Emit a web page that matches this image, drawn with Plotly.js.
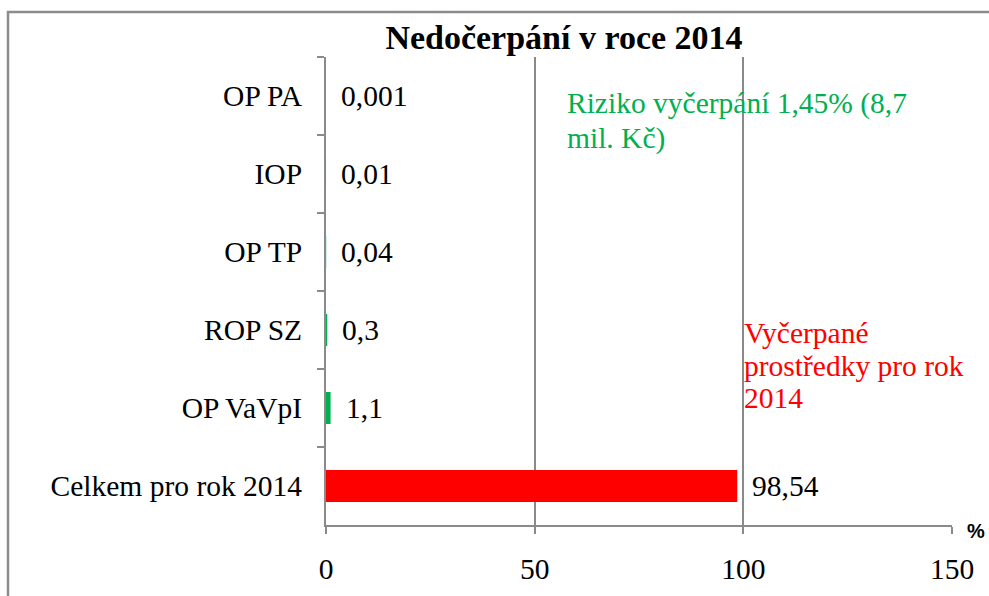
<!DOCTYPE html>
<html>
<head>
<meta charset="utf-8">
<script src="https://cdn.plot.ly/plotly-3.0.1.min.js"></script>
<style>html,body{margin:0;padding:0;background:#fff;}#chart{width:989px;height:596px;}</style>
</head>
<body>
<div id="chart"></div>
<script>
const categories = ["OP PA", "IOP", "OP TP", "ROP SZ", "OP VaVpI", "Celkem pro rok 2014"];
const values = [0.001, 0.01, 0.04, 0.3, 1.1, 98.54];
const barColors = ["#00B050", "#00B050", "#00B050", "#00B050", "#00B050", "#FF0000"];
const xTicks = [0, 50, 100, 150];
const greenNote = ["Riziko vyčerpání 1,45% (8,7", "mil. Kč)"];
const redNote = ["Vyčerpané", "prostředky pro rok", "2014"];

const fmt = v => String(v).replace('.', ',');

const serif = "'Liberation Serif', 'Times New Roman', serif";
const FS = 29.5;
const L = 326, R = 952, T = 57, B = 525;
const px = x => (x - L) / (R - L);
const py = y => (B - y) / (B - T);

const trace = {
  type: 'bar',
  orientation: 'h',
  y: categories,
  x: values,
  marker: {color: barColors, line: {width: 0}},
  width: 0.41,
  hoverinfo: 'skip'
};

const valueAnnotations = categories.map((c, i) => ({
  x: values[i], y: c, xref: 'x', yref: 'y',
  text: fmt(values[i]), showarrow: false,
  xanchor: 'left', yanchor: 'middle', xshift: 13,
  font: {family: serif, size: FS, color: '#000'}
}));

const greenY = [103, 138];
const redY = [333, 366, 398];
const noteAnnotations = greenNote.map((t, i) => ({
  xref: 'paper', yref: 'paper', x: px(565), y: py(greenY[i]),
  xanchor: 'left', yanchor: 'middle', showarrow: false, text: t,
  font: {family: serif, size: FS, color: '#00B050'}
})).concat(redNote.map((t, i) => ({
  xref: 'paper', yref: 'paper', x: px(742), y: py(redY[i]),
  xanchor: 'left', yanchor: 'middle', showarrow: false, text: t,
  font: {family: serif, size: FS, color: '#FF0000'}
})));

const layout = {
  width: 989, height: 596,
  margin: {l: L, r: 989 - R, t: T, b: 596 - B},
  paper_bgcolor: '#fff', plot_bgcolor: '#fff',
  showlegend: false,
  title: {
    text: '<b>Nedočerpání v roce 2014</b>',
    font: {family: serif, size: 34, color: '#000'},
    x: 564 / 989, xref: 'container', xanchor: 'center',
    y: 1 - 37/596, yref: 'container', yanchor: 'middle'
  },
  xaxis: {
    range: [0, 150], tickvals: xTicks, ticktext: xTicks.map(String),
    showgrid: true, gridcolor: '#8a8a8a', gridwidth: 2,
    zeroline: false, showline: true, linecolor: '#8a8a8a', linewidth: 2,
    ticks: 'outside', ticklen: 7, tickcolor: '#8a8a8a', tickwidth: 2,
    ticklabelstandoff: 10,
    tickfont: {family: serif, size: FS, color: '#000'},
    fixedrange: true
  },
  yaxis: {
    type: 'category', autorange: 'reversed',
    tickson: 'boundaries', showgrid: false, zeroline: false,
    showline: true, linecolor: '#8a8a8a', linewidth: 2,
    ticks: 'outside', ticklen: 7, tickcolor: '#8a8a8a', tickwidth: 2,
    ticklabelstandoff: 16,
    tickfont: {family: serif, size: FS, color: '#000'},
    fixedrange: true
  },
  annotations: valueAnnotations.concat(noteAnnotations, [
    {
      xref: 'paper', yref: 'paper', x: px(976), y: py(531),
      xanchor: 'center', yanchor: 'middle', showarrow: false,
      text: '<b>%</b>',
      font: {family: "'Liberation Sans', Arial, sans-serif", size: 20, color: '#000'}
    }
  ]),
  shapes: [
    {
      type: 'rect', xref: 'paper', yref: 'paper',
      x0: px(8), x1: px(1000), y0: py(610), y1: py(12),
      line: {color: '#8c8c8c', width: 2.5}, fillcolor: 'rgba(0,0,0,0)', layer: 'below'
    }
  ]
};

Plotly.newPlot('chart', [trace], layout, {displayModeBar: false, staticPlot: true});
</script>
</body>
</html>
